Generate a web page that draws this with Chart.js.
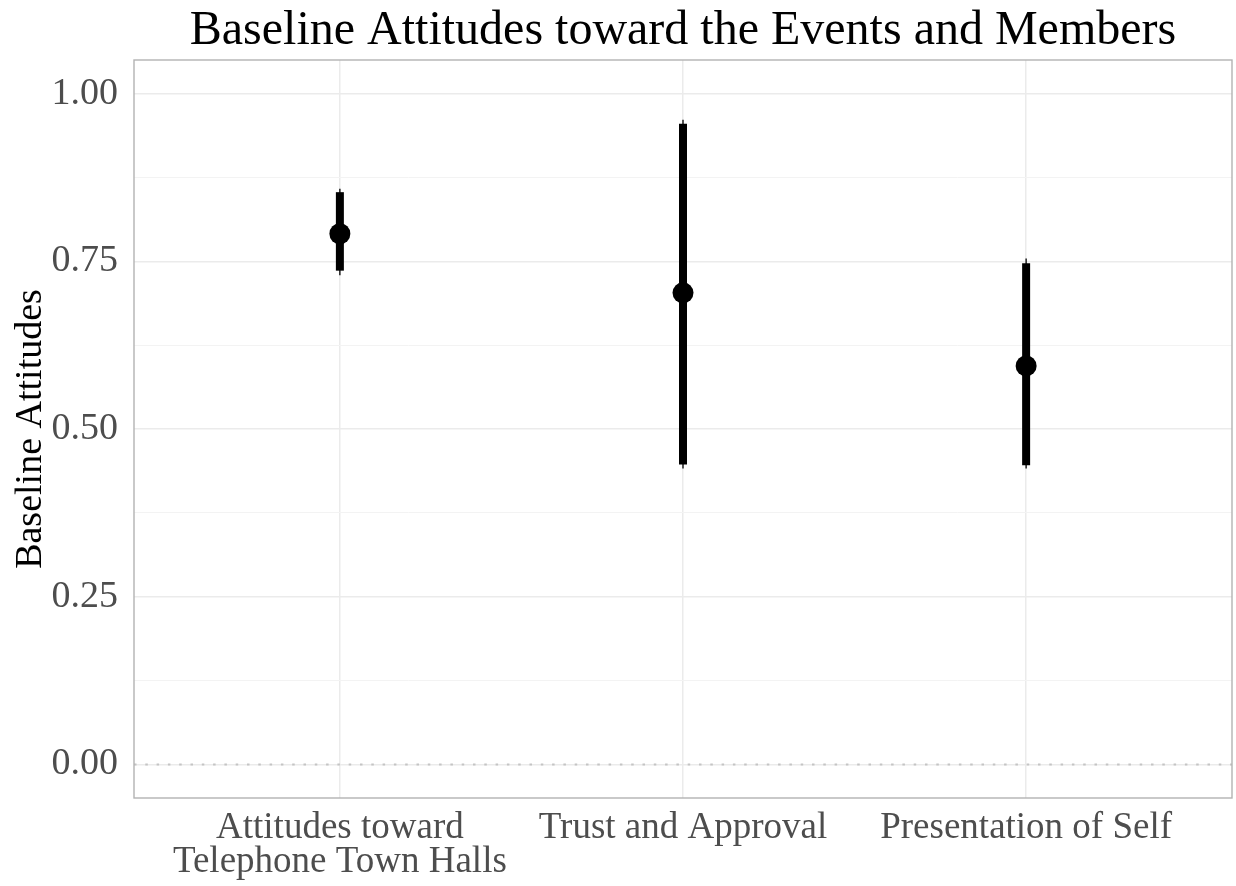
<!DOCTYPE html>
<html>
<head>
<meta charset="utf-8">
<script src="https://cdn.jsdelivr.net/npm/chart.js@4"></script>
<style>
  html, body { margin: 0; padding: 0; background: #ffffff; }
  #wrap { width: 1236px; height: 886px; }
</style>
</head>
<body>
<div id="wrap"><canvas id="c" width="1236" height="886"></canvas></div>
<script>
// ---- data ----
const titleText = "Baseline Attitudes toward the Events and Members";
const yAxisTitle = "Baseline Attitudes";
const categories = [["Attitudes toward", "Telephone Town Halls"], ["Trust and Approval"], ["Presentation of Self"]];
const categoryPos = [1, 2, 3];
const estimates = [0.791, 0.703, 0.594];
const innerLow = [0.736, 0.447, 0.446];
const innerHigh = [0.853, 0.955, 0.747];
const outerLow = [0.729, 0.441, 0.441];
const outerHigh = [0.858, 0.961, 0.754];
const yTickValues = [0, 0.125, 0.25, 0.375, 0.5, 0.625, 0.75, 0.875, 1.0];
const yMajorTicks = [0, 0.25, 0.5, 0.75, 1.0];
const refLineY = 0;

const FONT = "'Liberation Serif', 'Times New Roman', serif";

const datasets = [];
// points
datasets.push({
  type: 'scatter',
  data: categoryPos.map((x, i) => ({ x: x, y: estimates[i] })),
  backgroundColor: '#000000',
  borderWidth: 0,
  pointRadius: 10.5,
  pointHoverRadius: 10.5,
  order: 0
});
// thick intervals
categoryPos.forEach((x, i) => {
  datasets.push({
    type: 'line',
    data: [{ x: x, y: innerLow[i] }, { x: x, y: innerHigh[i] }],
    borderColor: '#000000',
    borderWidth: 8,
    borderCapStyle: 'butt',
    pointRadius: 0,
    order: 1
  });
});
// thin intervals
categoryPos.forEach((x, i) => {
  datasets.push({
    type: 'line',
    data: [{ x: x, y: outerLow[i] }, { x: x, y: outerHigh[i] }],
    borderColor: '#000000',
    borderWidth: 1.3,
    borderCapStyle: 'butt',
    pointRadius: 0,
    order: 2
  });
});
// dotted reference line at 0
datasets.push({
  type: 'line',
  data: [{ x: 0.4, y: refLineY }, { x: 3.6, y: refLineY }],
  borderColor: '#c4c4c4',
  borderWidth: 2,
  borderDash: [2.5, 8.8],
  pointRadius: 0,
  order: 3
});

const panelBorder = {
  id: 'panelBorder',
  afterDatasetsDraw(chart) {
    const a = chart.chartArea, ctx = chart.ctx;
    ctx.save();
    ctx.strokeStyle = '#b3b3b3';
    ctx.lineWidth = 1.4;
    ctx.strokeRect(a.left, a.top, a.right - a.left, a.bottom - a.top);
    ctx.restore();
  },
  afterDraw(chart) {
    const a = chart.chartArea, ctx = chart.ctx;
    ctx.save();
    ctx.fillStyle = '#000000';
    ctx.font = "48px " + FONT;
    ctx.textAlign = 'center';
    ctx.textBaseline = 'alphabetic';
    ctx.fillText(titleText, (a.left + a.right) / 2, 44);
    ctx.restore();
  }
};

new Chart(document.getElementById('c'), {
  type: 'scatter',
  data: { datasets: datasets },
  options: {
    responsive: false,
    animation: false,
    events: [],
    layout: { autoPadding: false, padding: { top: 60, right: 4, bottom: 0, left: 0 } },
    plugins: { legend: { display: false }, tooltip: { enabled: false }, title: { display: false } },
    scales: {
      x: {
        type: 'linear',
        min: 0.4, max: 3.6,
        afterBuildTicks(scale) { scale.ticks = categoryPos.map(v => ({ value: v })); },
        afterFit(scale) { scale.height = 88; },
        grid: { color: '#ebebeb', lineWidth: 1.5, drawTicks: false },
        border: { display: false },
        ticks: {
          padding: 13,
          color: '#4d4d4d',
          font: { family: FONT, size: 37, lineHeight: 0.93 },
          maxRotation: 0,
          autoSkip: false,
          callback(v) {
            const i = categoryPos.indexOf(v);
            return i >= 0 ? categories[i] : '';
          }
        }
      },
      y: {
        type: 'linear',
        min: -0.05, max: 1.05,
        afterBuildTicks(scale) { scale.ticks = yTickValues.map(v => ({ value: v })); },
        afterFit(scale) { scale.width = 134; },
        grid: {
          drawTicks: false,
          color(ctx) { return yMajorTicks.includes(ctx.tick.value) ? '#ebebeb' : '#f3f3f3'; },
          lineWidth(ctx) { return yMajorTicks.includes(ctx.tick.value) ? 1.5 : 1; }
        },
        border: { display: false },
        title: {
          display: true,
          text: yAxisTitle,
          color: '#000000',
          font: { family: FONT, size: 38 },
          padding: { top: 8, bottom: 0 }
        },
        ticks: {
          padding: 16,
          color: '#4d4d4d',
          font: { family: FONT, size: 38 },
          autoSkip: false,
          callback(v) { return yMajorTicks.includes(v) ? v.toFixed(2) : ''; }
        }
      }
    }
  },
  plugins: [panelBorder]
});
</script>
</body>
</html>
